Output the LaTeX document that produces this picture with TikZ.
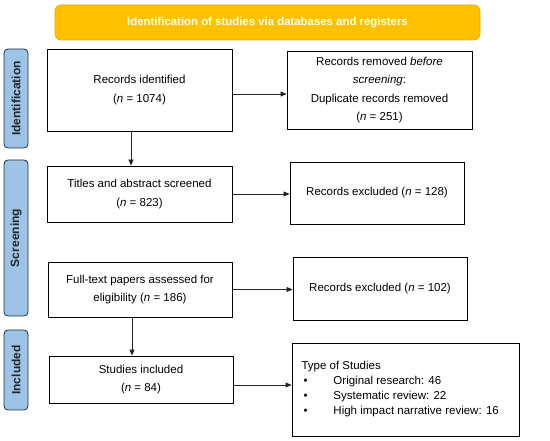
\documentclass[tikz,border=0pt]{standalone}
\usepackage{fontspec}
\setmainfont{Liberation Sans}
\usetikzlibrary{arrows.meta}
\definecolor{bannerfill}{HTML}{FFC000}
\definecolor{bannerdraw}{HTML}{E3A800}
\definecolor{labfill}{HTML}{9DC3E6}
\definecolor{labdraw}{HTML}{1F2F3F}
\tikzset{
  x=1pt, y=-1pt,
  box/.style={draw=black, line width=0.8pt, fill=white, inner sep=0pt, align=center,
    font=\fontsize{11.5}{18.5}\selectfont},
  phase/.style={draw=labdraw, line width=0.8pt, fill=labfill, rounded corners=4pt,
    minimum height=24pt, inner sep=0pt, rotate=90,
    font=\fontsize{12}{14}\selectfont\bfseries, text=black!85},
  banner/.style={draw=bannerdraw, line width=0.6pt, fill=bannerfill, rounded corners=6pt,
    minimum width=425pt, minimum height=35pt, inner sep=0pt,
    font=\fontsize{11.4}{13}\selectfont\bfseries, text=white},
  arr/.style={draw=black!85, line width=0.7pt, -{Triangle[length=6pt,width=5pt]}}
}
\begin{document}
\begin{tikzpicture}
\useasboundingbox (0,0) rectangle (550,441);
\node[banner] (ban) at (267.5,22.5) {Identification of studies via databases and registers};
\node[phase, minimum width=99pt] (pid) at (16,98.5) {Identification};
\node[phase, minimum width=156pt] (psc) at (16,238) {Screening};
\node[phase, minimum width=80pt] (pin) at (16,370) {Included};

\node[box, minimum width=185pt, minimum height=82pt] (rec) at (139.5,90) {Records identified\\(\textit{n} = 1074)};
\node[box, minimum width=185pt, minimum height=78pt] (rem) at (379.5,90) {Records removed \textit{before}\\\textit{screening}:\\Duplicate records removed\\(\textit{n} = 251)};
\node[box, minimum width=185pt, minimum height=56pt] (tit) at (139.5,194) {Titles and abstract screened\\(\textit{n} = 823)};
\node[box, minimum width=174pt, minimum height=62pt] (ex1) at (377,193) {Records excluded (\textit{n} = 128)};
\node[box, minimum width=184pt, minimum height=55pt] (ful) at (140,289.5) {Full-text papers assessed for\\eligibility (\textit{n} = 186)};
\node[box, minimum width=174pt, minimum height=63pt] (ex2) at (380,288.5) {Records excluded (\textit{n} = 102)};
\node[box, minimum width=184pt, minimum height=47pt] (stu) at (141,379.5) {Studies included\\(\textit{n} = 84)};
\node[box, minimum width=227pt, minimum height=93pt, align=left, font=\fontsize{11.5}{15}\selectfont] (typ) at (405.5,389.5)
  {\makebox[208pt][l]{Type of Studies}\\
   \makebox[32pt][l]{\hspace{2pt}•}Original research: 46\\
   \makebox[32pt][l]{\hspace{2pt}•}Systematic review: 22\\
   \makebox[32pt][l]{\hspace{2pt}•}High impact narrative review: 16};

\coordinate (a1) at ([yshift=-4pt]rec.east);
\draw[arr] (a1) -- (a1 -| rem.west);
\draw[arr] (tit.east) -- (tit.east -| ex1.west);
\draw[arr] (ful.east) -- (ful.east -| ex2.west);
\coordinate (a4) at ([yshift=-5.5pt]stu.east);
\draw[arr] (a4) -- (a4 -| typ.west);
\coordinate (v1) at ([xshift=-8.5pt]rec.south);
\draw[arr] (v1) -- (v1 |- tit.north);
\coordinate (v2) at ([xshift=-8pt]ful.south);
\draw[arr] (v2) -- (v2 |- stu.north);
\end{tikzpicture}
\end{document}
